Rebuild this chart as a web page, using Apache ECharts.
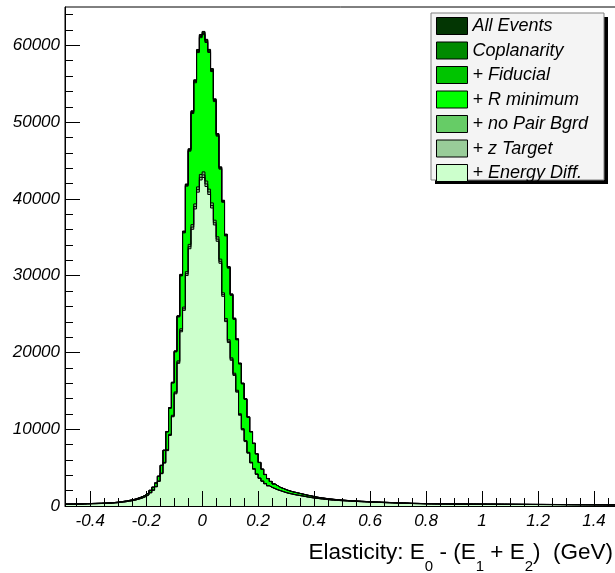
<!DOCTYPE html>
<html>
<head>
<meta charset="utf-8">
<script src="https://cdn.jsdelivr.net/npm/echarts@6/dist/echarts.min.js"></script>
<style>
  html, body { margin: 0; padding: 0; background: #ffffff; }
  #chart { width: 615px; height: 573px; }
</style>
</head>
<body>
<div id="chart"></div>
<script>
// Histogram binning: 199 bins of 0.01 GeV starting at -0.49 GeV
const binLow = -0.49;
const binWidth = 0.01;

// Counts per bin after each successive selection cut
const allEvents = [
  250, 262, 255, 270, 281, 276, 295, 310, 318, 334, 342, 355, 362, 378, 390, 405, 432, 466, 498, 552,
  604, 655, 728, 796, 884, 1002, 1128, 1284, 1476, 1735, 2046, 2455, 3010, 3890, 5310, 7280, 9710, 12820, 16130, 20210,
  24790, 30180, 35820, 41950, 46540, 51480, 55520, 59470, 61420,
  61820, 60790, 59480, 56980, 53040, 48510, 44180, 39830, 35420, 31190, 27630, 24480, 21790, 18620, 16010, 13980, 11620, 9710, 8190, 6820,
  5690, 4810, 4120, 3590, 3210, 2890, 2660, 2440, 2300, 2150, 2020, 1910, 1820, 1740, 1650, 1570, 1480, 1400, 1330, 1250,
  1170, 1110, 1060, 1010, 960, 920, 880, 845, 810, 780,
  752, 724, 700, 683, 661, 640, 618, 602, 581, 563, 548, 531, 519, 502, 488, 477, 462, 451, 438, 429,
  412, 401, 388, 371, 355, 346, 340, 331, 322, 316,
  310, 306, 301, 298, 293, 290, 287, 282, 280, 276, 273, 270, 268, 265, 262, 260, 258, 256, 253, 251,
  249, 246, 244, 243, 240, 238, 236, 234, 233, 230, 228, 226, 225, 222, 220, 219, 216, 214, 213, 210,
  208, 207, 204, 202, 201, 198, 196, 195, 192, 190, 189, 186, 184, 183, 180, 178, 177, 174, 172, 171,
  168, 166, 165, 162, 160, 159, 156, 154, 153, 150
];
const coplanarity = [
  250, 261, 255, 270, 280, 276, 294, 309, 317, 333, 341, 354, 361, 377, 389, 404, 431, 465, 497, 551,
  603, 654, 727, 795, 883, 1000, 1126, 1282, 1474, 1732, 2043, 2451, 3005, 3884, 5302, 7269, 9696, 12800, 16100, 20180,
  24750, 30130, 35760, 41880, 46470, 51400, 55440, 59380, 61330,
  61730, 60700, 59390, 56890, 52960, 48440, 44110, 39770, 35370, 31140, 27590, 24440, 21760, 18590, 15990, 13960, 11600, 9700, 8180, 6810,
  5680, 4800, 4110, 3580, 3200, 2880, 2650, 2430, 2290, 2140, 2010, 1900, 1810, 1730, 1640, 1560, 1470, 1390, 1320, 1240,
  1160, 1100, 1050, 1000, 950, 910, 870, 835, 800, 770,
  750, 722, 698, 681, 659, 638, 616, 600, 579, 561, 546, 529, 517, 500, 486, 475, 460, 449, 436, 427,
  410, 399, 386, 369, 353, 344, 338, 329, 320, 314,
  308, 304, 299, 296, 291, 288, 285, 280, 278, 274, 271, 268, 266, 263, 260, 258, 256, 254, 251, 249,
  247, 244, 242, 241, 238, 236, 234, 232, 231, 228, 226, 224, 223, 220, 218, 217, 214, 212, 211, 208,
  206, 205, 202, 200, 199, 196, 194, 193, 190, 188, 187, 184, 182, 181, 178, 176, 175, 172, 170, 169,
  166, 164, 163, 160, 158, 157, 154, 152, 151, 148
];
const fiducial = [
  249, 261, 254, 269, 280, 275, 294, 308, 317, 332, 340, 353, 360, 376, 388, 403, 430, 464, 496, 550,
  601, 652, 725, 793, 880, 997, 1123, 1278, 1470, 1727, 2037, 2444, 2997, 3873, 5287, 7249, 9669, 12770, 16060, 20130,
  24690, 30050, 35670, 41770, 46340, 51260, 55280, 59220, 61160,
  61560, 60540, 59230, 56740, 52820, 48310, 43990, 39660, 35270, 31060, 27510, 24370, 21700, 18540, 15940, 13920, 11570, 9670, 8150, 6790,
  5670, 4790, 4100, 3570, 3200, 2880, 2650, 2430, 2290, 2140, 2010, 1890, 1800, 1720, 1630, 1550, 1460, 1380, 1310, 1230,
  1150, 1090, 1040, 990, 940, 900, 860, 826, 792, 764,
  741, 713, 690, 673, 651, 631, 609, 594, 573, 555, 540, 523, 511, 494, 480, 470, 455, 444, 431, 422,
  405, 394, 382, 365, 349, 341, 335, 326, 317, 311,
  305, 301, 296, 294, 289, 286, 283, 278, 276, 272, 269, 266, 264, 261, 258, 256, 254, 252, 249, 247,
  245, 242, 240, 239, 236, 234, 232, 230, 229, 226, 224, 222, 221, 218, 216, 215, 212, 210, 209, 206,
  204, 203, 200, 198, 197, 194, 192, 191, 188, 186, 185, 182, 180, 179, 176, 174, 173, 170, 168, 167,
  164, 162, 161, 158, 156, 155, 152, 150, 149, 146
];
const rMinimum = [
  248, 260, 253, 268, 279, 274, 293, 307, 316, 331, 339, 352, 359, 375, 387, 402, 429, 462, 494, 548,
  599, 650, 722, 790, 877, 994, 1119, 1274, 1465, 1722, 2031, 2437, 2988, 3862, 5272, 7228, 9641, 12730, 16020, 20070,
  24620, 29970, 35570, 41660, 46220, 51120, 55130, 59060, 61000,
  61400, 60380, 59080, 56590, 52680, 48180, 43880, 39560, 35180, 30980, 27440, 24310, 21640, 18490, 15900, 13880, 11540, 9640, 8130, 6770,
  5650, 4780, 4090, 3560, 3190, 2870, 2640, 2420, 2280, 2130, 2000, 1890, 1800, 1720, 1630, 1550, 1460, 1380, 1310, 1230,
  1150, 1090, 1040, 990, 940, 900, 860, 826, 792, 762,
  734, 707, 683, 667, 645, 625, 603, 588, 567, 550, 535, 518, 507, 490, 476, 466, 451, 440, 427, 419,
  402, 391, 379, 362, 346, 338, 332, 323, 314, 308,
  302, 298, 293, 291, 286, 283, 280, 275, 273, 269, 266, 263, 261, 258, 255, 253, 251, 249, 246, 244,
  242, 239, 237, 236, 233, 231, 229, 227, 226, 223, 221, 219, 218, 215, 213, 212, 209, 207, 206, 203,
  201, 200, 197, 195, 194, 191, 189, 188, 185, 183, 182, 179, 177, 176, 173, 171, 170, 167, 165, 164,
  161, 159, 158, 155, 153, 152, 149, 147, 146, 143
];
const noPairBgrd = [
  234, 245, 240, 249, 258, 254, 271, 283, 289, 303, 308, 319, 327, 340, 348, 362, 387, 415, 444, 490,
  530, 576, 635, 700, 771, 866, 974, 1100, 1267, 1477, 1747, 2081, 2545, 3250, 4277, 5685, 7333, 9346, 11820, 14860,
  18900, 23080, 25910, 30530, 34080, 36650, 39350, 41570, 43190,
  43520, 42330, 41270, 39480, 37230, 35070, 32160, 27770, 24430, 21650, 19300, 17300, 15080, 12020, 10080, 8530, 7000, 5710, 4870, 4180,
  3650, 3260, 2940, 2660, 2450, 2290, 2140, 2010, 1890, 1770, 1670, 1590, 1510, 1430, 1370, 1310, 1240, 1170, 1110, 1060,
  1010, 966, 925, 885, 844, 803, 773, 742, 722, 702,
  683, 662, 643, 622, 606, 584, 567, 549, 533, 517, 500, 488, 473, 461, 447, 435, 424, 412, 402, 391,
  378, 366, 355, 341, 326, 317, 310, 303, 295, 289,
  284, 280, 276, 273, 268, 265, 262, 258, 256, 252, 250, 247, 245, 242, 240, 238, 236, 234, 232, 230,
  228, 225, 224, 223, 220, 218, 216, 215, 214, 211, 208, 206, 206, 203, 201, 200, 197, 196, 195, 192,
  190, 189, 187, 185, 184, 181, 179, 179, 176, 174, 173, 170, 169, 168, 165, 163, 162, 160, 158, 157,
  154, 152, 152, 148, 146, 145, 142, 141, 140, 137
];
const zTarget = [
  232, 243, 238, 247, 256, 252, 268, 280, 286, 300, 305, 316, 325, 337, 345, 359, 384, 411, 440, 486,
  525, 571, 629, 694, 764, 859, 966, 1091, 1256, 1464, 1732, 2062, 2522, 3222, 4240, 5635, 7268, 9264, 11710, 14730,
  18730, 22870, 25680, 30260, 33780, 36330, 39000, 41210, 42810,
  43130, 41950, 40900, 39130, 36900, 34760, 31870, 27530, 24210, 21460, 19130, 17150, 14950, 11910, 9990, 8460, 6940, 5650, 4830, 4140,
  3620, 3240, 2910, 2640, 2430, 2270, 2120, 2000, 1870, 1750, 1650, 1570, 1490, 1420, 1360, 1300, 1230, 1160, 1100, 1050,
  1000, 958, 917, 877, 837, 796, 766, 736, 716, 696,
  677, 656, 637, 617, 601, 579, 562, 544, 528, 512, 496, 484, 469, 457, 444, 431, 420, 408, 398, 387,
  375, 363, 352, 338, 324, 314, 307, 300, 292, 286,
  281, 277, 273, 270, 266, 263, 260, 256, 254, 250, 248, 245, 243, 240, 238, 236, 234, 232, 230, 228,
  226, 223, 222, 221, 218, 216, 214, 213, 212, 209, 207, 205, 205, 202, 200, 199, 196, 195, 194, 191,
  189, 188, 186, 184, 183, 180, 178, 178, 175, 173, 172, 169, 168, 167, 164, 162, 161, 159, 157, 156,
  153, 151, 151, 147, 145, 144, 141, 140, 139, 136
];
const energyDiff = [
  230, 241, 236, 245, 254, 250, 266, 278, 284, 298, 303, 314, 322, 334, 342, 356, 381, 408, 437, 482,
  521, 566, 624, 688, 758, 852, 958, 1082, 1246, 1452, 1718, 2046, 2502, 3196, 4206, 5590, 7210, 9190, 11620, 14610,
  18580, 22690, 25480, 30020, 33510, 36040, 38690, 40880, 42470,
  42790, 41620, 40580, 38820, 36610, 34480, 31620, 27310, 24020, 21290, 18980, 17010, 14830, 11820, 9910, 8390, 6880, 5610, 4790, 4110,
  3590, 3210, 2890, 2620, 2410, 2250, 2100, 1980, 1860, 1740, 1640, 1560, 1480, 1410, 1350, 1290, 1220, 1150, 1090, 1040,
  990, 950, 910, 870, 830, 790, 760, 730, 710, 690,
  672, 651, 632, 612, 596, 574, 558, 540, 524, 508, 492, 480, 465, 453, 440, 428, 417, 405, 395, 384,
  372, 360, 349, 335, 321, 312, 305, 298, 290, 284,
  279, 275, 271, 268, 264, 261, 258, 254, 252, 248, 246, 243, 241, 238, 236, 234, 232, 230, 228, 226,
  224, 221, 220, 219, 216, 214, 212, 211, 210, 207, 205, 203, 203, 200, 198, 197, 194, 193, 192, 189,
  187, 186, 184, 182, 181, 178, 176, 176, 173, 171, 170, 167, 166, 165, 162, 160, 159, 157, 155, 154,
  151, 149, 149, 146, 144, 143, 140, 139, 138, 135
];

const cutNames = ['All Events', 'Coplanarity', '+ Fiducial', '+ R minimum', '+ no Pair Bgrd', '+ z Target', '+ Energy Diff.'];
const cutCounts = [allEvents, coplanarity, fiducial, rMinimum, noPairBgrd, zTarget, energyDiff];
const cutColors = ['#033603', '#008a00', '#00c400', '#00ff00', '#66cc66', '#99cc99', '#ccffcc'];

// Axis labels
const xTickValues = [-0.4, -0.2, 0, 0.2, 0.4, 0.6, 0.8, 1, 1.2, 1.4];
const yTickValues = [0, 10000, 20000, 30000, 40000, 50000, 60000];

const FONT = '"Liberation Sans", Arial, Helvetica, sans-serif';

// Minor tick positions between the labelled ticks
const xMinor = [];
for (let k = -9; k <= 30; k++) { if (k % 4 !== 0) xMinor.push(k * 5 / 100); }
const yMinor = [];
for (let k = 1; k <= 32; k++) { if (k % 5 !== 0) yMinor.push(k * 2000); }

// Histogram outline as a step line: one point per bin low edge, plus the final upper edge
function stepPoints(counts) {
  const pts = counts.map((c, i) => [Math.round((binLow + i * binWidth) * 1000) / 1000, c]);
  pts.push([Math.round((binLow + counts.length * binWidth) * 1000) / 1000, counts[counts.length - 1]]);
  return pts;
}

const chart = echarts.init(document.getElementById('chart'), null, { renderer: 'canvas' });

const series = cutNames.map((name, k) => ({
  type: 'line',
  name: name,
  step: 'end',
  data: stepPoints(cutCounts[k]),
  symbol: 'none',
  showSymbol: false,
  color: cutColors[k],
  lineStyle: { color: '#000000', width: 1 },
  areaStyle: { color: cutColors[k], opacity: 1 },
  silent: true,
  z: 2
}));

chart.setOption({
  animation: false,
  backgroundColor: '#ffffff',
  grid: {
    left: 65, top: 7, right: -7, bottom: 67,
    containLabel: false, outerBoundsMode: 'none',
    show: true, borderColor: '#000000', borderWidth: 1, backgroundColor: 'transparent'
  },
  xAxis: [
    {
      type: 'value', min: -0.49, max: 1.5, position: 'bottom', z: 6,
      axisLine: { show: true, onZero: false, lineStyle: { color: '#000', width: 1 } },
      axisTick: { show: true, inside: true, length: 15, customValues: xTickValues, lineStyle: { color: '#000', width: 1 } },
      axisLabel: {
        show: true, customValues: xTickValues, margin: 7,
        color: '#000', fontSize: 17, fontStyle: 'italic', fontFamily: FONT,
        formatter: v => String(v)
      },
      splitLine: { show: false }
    },
    {
      type: 'value', min: -0.49, max: 1.5, position: 'bottom', z: 6,
      axisLine: { show: false, onZero: false },
      axisTick: { show: true, inside: true, length: 8, customValues: xMinor, lineStyle: { color: '#000', width: 1 } },
      axisLabel: { show: false },
      splitLine: { show: false }
    }
  ],
  yAxis: [
    {
      type: 'value', min: 0, max: 65000, position: 'left', z: 6,
      axisLine: { show: true, onZero: false, lineStyle: { color: '#000', width: 1 } },
      axisTick: { show: true, inside: true, length: 15, customValues: yTickValues, lineStyle: { color: '#000', width: 1 } },
      axisLabel: {
        show: true, customValues: yTickValues, margin: 5,
        color: '#000', fontSize: 17, fontStyle: 'italic', fontFamily: FONT,
        formatter: v => String(v)
      },
      splitLine: { show: false }
    },
    {
      type: 'value', min: 0, max: 65000, position: 'left',
      axisLine: { show: false, onZero: false },
      axisTick: { show: true, inside: true, length: 8, customValues: yMinor, lineStyle: { color: '#000000', width: 1 } },
      axisLabel: { show: false },
      splitLine: { show: false }
    }
  ],
  legend: {
    data: cutNames,
    orient: 'vertical',
    left: 436, top: 17,
    padding: 0,
    icon: 'rect',
    itemWidth: 31, itemHeight: 17, itemGap: 6.5,
    selectedMode: false,
    z: 10,
    itemStyle: { borderColor: '#000', borderWidth: 1 },
    textStyle: { color: '#000', fontSize: 18, fontStyle: 'italic', fontFamily: FONT, lineHeight: 17 }
  },
  graphic: [
    { type: 'rect', z: 8, silent: true, shape: { x: 435, y: 17, width: 173, height: 167 }, style: { fill: '#000000' } },
    { type: 'rect', z: 9, silent: true, shape: { x: 431, y: 13, width: 173, height: 167 }, style: { fill: '#f4f4f4', stroke: '#808080', lineWidth: 1 } },
    {
      type: 'text', z: 10, silent: true, right: 2, top: 541,
      style: {
        text: '{m|Elasticity: E}{s|0}{m| - (E}{s|1}{m| + E}{s|2}{m|)  (GeV)}',
        rich: {
          m: { fontSize: 22.5, fontFamily: FONT, fill: '#000', lineHeight: 34 },
          s: { fontSize: 15, fontFamily: FONT, fill: '#000', padding: [28, 0, 0, 0] }
        }
      }
    }
  ],
  series: series
});
</script>
</body>
</html>
